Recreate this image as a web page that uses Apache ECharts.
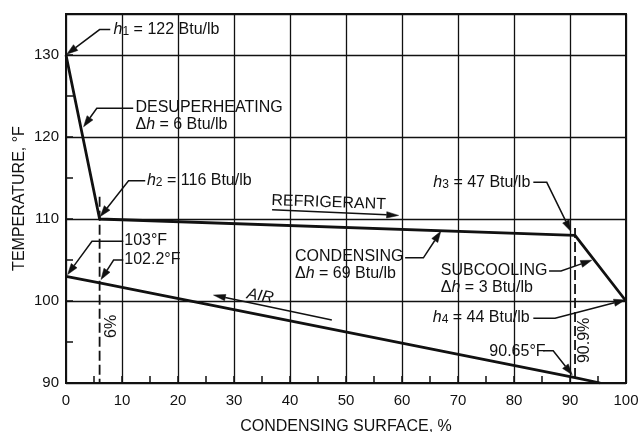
<!DOCTYPE html>
<html>
<head>
<meta charset="utf-8">
<script src="https://cdn.jsdelivr.net/npm/echarts@6/dist/echarts.min.js"></script>
<style>
  html, body { margin: 0; padding: 0; background: #fff; }
  #chart { width: 642px; height: 432px; }
</style>
</head>
<body>
<div id="chart"></div>
<script>
// Temperature profile along the condensing surface (percent of surface vs. °F)
const refrigerantPct  = [0, 6, 90.9, 100];
const refrigerantTemp = [130, 110, 108, 100];
const airPct  = [0, 6, 90.9, 95.4];
const airTemp = [103, 102.2, 90.65, 90];

// Vertical markers at the ends of the desuperheating and condensing zones
const desuperheatMarker = [[6, 112.7], [6, 90]];
const subcoolMarker     = [[90.9, 108.9], [90.9, 90]];

// Axis ticks
const xTickValues = [0, 10, 20, 30, 40, 50, 60, 70, 80, 90, 100];
const yTickValues = [90, 100, 110, 120, 130];

// Call-outs: rich text, anchor (left / middle), leader polyline ending in an arrowhead
const callouts = [
  { text: '{h|h}{s|1}{t| = 122 Btu/lb}', at: [8.5, 133.1],
    leader: [[7.9, 133.1], [6.0, 133.1], [0.15, 130.1]] },
  { text: '{t|DESUPERHEATING}\n{t|Δ}{h|h}{t| = 6 Btu/lb}', at: [12.4, 122.5],
    leader: [[12.0, 123.5], [5.5, 123.5], [3.14, 121.25]] },
  { text: '{h|h}{s|2}{t| = 116 Btu/lb}', at: [14.46, 114.7],
    leader: [[14.15, 114.65], [11.17, 114.65], [6.12, 110.3]] },
  { text: '{t|CONDENSING}\n{t|Δ}{h|h}{t| = 69 Btu/lb}', at: [40.9, 104.4],
    leader: [[60.56, 105.26], [63.82, 105.26], [66.93, 108.5]] },
  { text: '{h|h}{s|3}{t| = 47 Btu/lb}', at: [65.6, 114.45],
    leader: [[83.45, 114.47], [85.85, 114.47], [90.13, 108.5]] },
  { text: '{t|SUBCOOLING}\n{t|Δ}{h|h}{t| = 3 Btu/lb}', at: [66.93, 102.7],
    leader: [[86.26, 103.66], [88.4, 103.66], [93.88, 104.97]] },
  { text: '{h|h}{s|4}{t| = 44 Btu/lb}', at: [65.5, 97.97],
    leader: [[83.45, 97.89], [87.33, 97.89], [99.82, 100.13]] },
  { text: '{t|90.65°F}', at: [75.6, 93.79],
    leader: [[85.19, 93.94], [87.0, 93.94], [90.4, 91.0]] },
  { text: '{t|103°F}', at: [10.4, 107.36],
    leader: [[10.23, 107.28], [4.64, 107.28], [0.29, 103.23]] },
  { text: '{t|102.2°F}', at: [10.4, 105.05],
    leader: [[10.23, 104.99], [8.5, 104.99], [6.25, 102.62]] }
];

// Flow-direction labels with their arrows
const flowLabels = [
  { text: 'REFRIGERANT', at: [46.9, 112.0], angle: -2, italic: false,
    arrow: [[36.8, 111.13], [59.4, 110.44]] },
  { text: 'AIR', at: [34.68, 100.6], angle: -10, italic: true,
    arrow: [[47.47, 97.68], [26.34, 100.72]] }
];

// Zone-boundary percentages written vertically beside the markers
const markerLabels = [
  { text: '6%', at: [8.14, 96.9] },
  { text: '90.9%', at: [92.6, 95.2] }
];

const FONT = '"Liberation Sans", Arial, Helvetica, sans-serif';
const INK = '#111';
const NOTE_SIZE = 16;

const chart = echarts.init(document.getElementById('chart'), null, { renderer: 'canvas' });

const pairs = (xs, ys) => xs.map((x, i) => [x, ys[i]]);

chart.setOption({
  animation: false,
  backgroundColor: '#fff',
  textStyle: { fontFamily: FONT },
  grid: { left: 66, right: 16, top: 14, bottom: 49, show: true,
          outerBoundsMode: 'none', containLabel: false,
          borderColor: INK, borderWidth: 2, backgroundColor: 'transparent' },
  xAxis: [
    { type: 'value', min: 0, max: 100, interval: 10, position: 'bottom',
      axisLine: { show: true, onZero: false, lineStyle: { color: INK, width: 2 } },
      axisTick: { show: false },
      axisLabel: { fontSize: 15, color: INK, margin: 10, fontFamily: FONT,
                   formatter: v => xTickValues.includes(v) ? String(v) : '' },
      splitLine: { show: true, lineStyle: { color: '#111', width: 1.3 } },
      name: 'CONDENSING SURFACE, %', nameLocation: 'middle', nameGap: 36,
      nameMoveOverlap: false,
      nameTextStyle: { fontSize: 16, color: INK, fontFamily: FONT } },
    { type: 'value', min: 0, max: 100, interval: 5, position: 'bottom',
      axisLine: { show: false, onZero: false },
      axisTick: { show: true, inside: true, length: 7, lineStyle: { color: INK, width: 1.5 } },
      axisLabel: { show: false }, splitLine: { show: false } }
  ],
  yAxis: [
    { type: 'value', min: 90, max: 135, interval: 10, position: 'left',
      axisLine: { show: true, onZero: false, lineStyle: { color: INK, width: 2 } },
      axisTick: { show: false },
      axisLabel: { fontSize: 15, color: INK, margin: 7, fontFamily: FONT,
                   formatter: v => yTickValues.includes(v) ? String(v) : '' },
      splitLine: { show: true, lineStyle: { color: '#111', width: 1.3 } },
      name: 'TEMPERATURE, °F', nameLocation: 'middle', nameGap: 38,
      nameMoveOverlap: false,
      nameTextStyle: { fontSize: 16, color: INK, fontFamily: FONT } },
    { type: 'value', min: 90, max: 135, interval: 5, position: 'left',
      axisLine: { show: false, onZero: false },
      axisTick: { show: true, inside: true, length: 7, lineStyle: { color: INK, width: 1.5 } },
      axisLabel: { show: false }, splitLine: { show: false } }
  ],
  series: [
    { type: 'line', name: 'Refrigerant', data: pairs(refrigerantPct, refrigerantTemp),
      symbol: 'none', z: 5,
      lineStyle: { color: INK, width: 2.8, join: 'round' } },
    { type: 'line', name: 'Air', data: pairs(airPct, airTemp),
      symbol: 'none', z: 5,
      lineStyle: { color: INK, width: 2.8, join: 'round' } },
    { type: 'line', name: 'Desuperheating limit', data: desuperheatMarker, symbol: 'none', z: 4,
      lineStyle: { color: INK, width: 1.8, type: [10, 4] } },
    { type: 'line', name: 'Subcooling limit', data: subcoolMarker, symbol: 'none', z: 4,
      lineStyle: { color: INK, width: 1.8, type: [10, 4] } }
  ]
});

// ---- call-outs, drawn in pixel space from their data positions ----
const toPx = p => chart.convertToPixel({ xAxisIndex: 0, yAxisIndex: 0 }, p);

const rich = {
  t: { fontSize: NOTE_SIZE, fontFamily: FONT, color: INK, lineHeight: 17 },
  h: { fontSize: NOTE_SIZE, fontFamily: FONT, color: INK, lineHeight: 17, fontStyle: 'italic' },
  s: { fontSize: 12, fontFamily: FONT, color: INK, lineHeight: 7, verticalAlign: 'bottom' }
};

function arrowHead(tip, from, len, half) {
  const dx = tip[0] - from[0], dy = tip[1] - from[1];
  const d = Math.hypot(dx, dy) || 1;
  const ux = dx / d, uy = dy / d;
  const bx = tip[0] - ux * len, by = tip[1] - uy * len;
  return [tip, [bx - uy * half, by + ux * half], [bx + uy * half, by - ux * half]];
}

function leaderElements(points, lineWidth, len, half) {
  const px = points.map(toPx);
  const tip = px[px.length - 1];
  const prev = px[px.length - 2];
  const head = arrowHead(tip, prev, len, half);
  // stop the shaft at the arrowhead base so the point stays sharp
  const shaft = px.slice(0, -1).concat([[
    (head[1][0] + head[2][0]) / 2, (head[1][1] + head[2][1]) / 2
  ]]);
  return [
    { type: 'polyline', shape: { points: shaft }, z: 20,
      style: { stroke: INK, lineWidth: lineWidth, fill: null, lineJoin: 'miter' } },
    { type: 'polygon', shape: { points: head }, z: 20,
      style: { fill: INK, stroke: INK, lineWidth: 0.5 } }
  ];
}

const graphics = [];

callouts.forEach(c => {
  const p = toPx(c.at);
  graphics.push({ type: 'text', x: p[0], y: p[1], z: 20,
    style: { text: c.text, rich: rich, align: 'left', verticalAlign: 'middle',
             fontSize: NOTE_SIZE, fontFamily: FONT, fill: INK } });
  graphics.push(...leaderElements(c.leader, 1.5, 11, 3.6));
});

flowLabels.forEach(f => {
  const p = toPx(f.at);
  graphics.push({ type: 'text', x: p[0], y: p[1], rotation: f.angle * Math.PI / 180, z: 20,
    style: { text: f.text, align: 'center', verticalAlign: 'middle', fill: INK,
             font: (f.italic ? 'italic ' : '') + NOTE_SIZE + 'px ' + FONT } });
  graphics.push(...leaderElements(f.arrow, 1.5, 12, 3.2));
});

markerLabels.forEach(m => {
  const p = toPx(m.at);
  graphics.push({ type: 'text', x: p[0], y: p[1], rotation: Math.PI / 2, z: 20,
    style: { text: m.text, align: 'center', verticalAlign: 'middle', fill: INK,
             font: NOTE_SIZE + 'px ' + FONT } });
});

chart.setOption({ graphic: graphics });
</script>
</body>
</html>
